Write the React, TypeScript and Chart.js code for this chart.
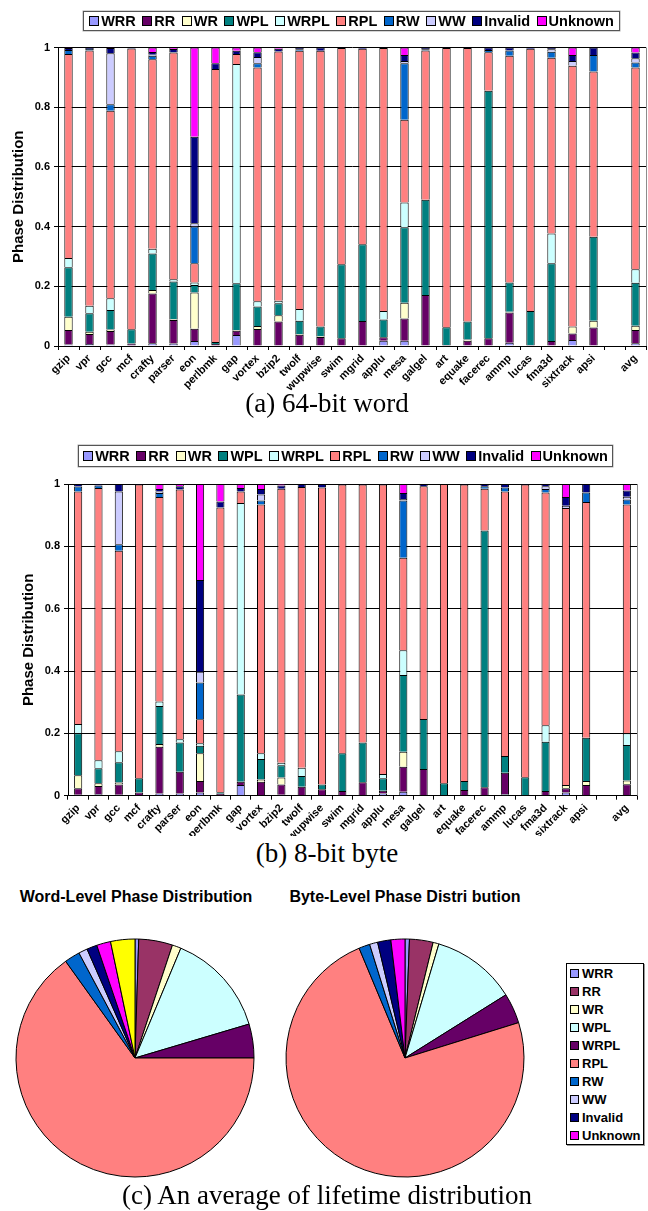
import React, { useEffect, useRef } from 'react';
import { Chart, registerables } from 'chart.js';

Chart.register(...registerables);

const SANS = "'Liberation Sans', Arial, sans-serif";
const SERIF = "'Liberation Serif', 'Times New Roman', serif";

// ---------- categories & series ----------
const categories = ['gzip', 'vpr', 'gcc', 'mcf', 'crafty', 'parser', 'eon', 'perlbmk', 'gap', 'vortex', 'bzip2', 'twolf', 'wupwise', 'swim', 'mgrid', 'applu', 'mesa', 'galgel', 'art', 'equake', 'facerec', 'ammp', 'lucas', 'fma3d', 'sixtrack', 'apsi', '', 'avg'];
const phaseNames = ['WRR', 'RR', 'WR', 'WPL', 'WRPL', 'RPL', 'RW', 'WW', 'Invalid', 'Unknown'];
const barColors = ['#9999FF', '#660066', '#FFFFCC', '#008080', '#CCFFFF', '#FF8080', '#0066CC', '#CCCCFF', '#000080', '#FF00FF'];

// (a) 64-bit word
const wordWRR = [0.005, 0.007, 0.005, 0, 0.009, 0.008, 0.017, 0, 0.037, 0.002, 0.002, 0.003, 0, 0, 0, 0.018, 0.018, 0, 0, 0, 0, 0.011, 0, 0, 0.020, 0, null, 0.009];
const wordRR = [0.049, 0.033, 0.045, 0.008, 0.167, 0.079, 0.041, 0.007, 0.014, 0.055, 0.080, 0.035, 0.030, 0.026, 0.084, 0.011, 0.074, 0.171, 0.003, 0.018, 0.026, 0.101, 0.003, 0.017, 0.022, 0.062, null, 0.045];
const wordWR = [0.044, 0.008, 0.005, 0, 0.012, 0.003, 0.121, 0, 0.003, 0.010, 0.021, 0.002, 0.003, 0, 0, 0, 0.053, 0, 0, 0.004, 0, 0.003, 0, 0, 0.023, 0.023, null, 0.014];
const wordWPL = [0.166, 0.062, 0.066, 0.048, 0.122, 0.126, 0.025, 0.006, 0.156, 0.065, 0.040, 0.045, 0.032, 0.248, 0.257, 0.060, 0.253, 0.319, 0.060, 0.060, 0.829, 0.098, 0.114, 0.260, 0, 0.281, null, 0.144];
const wordWRPL = [0.031, 0.025, 0.039, 0, 0.016, 0.008, 0.009, 0, 0.735, 0.018, 0.009, 0.039, 0, 0, 0, 0.028, 0.083, 0, 0, 0, 0, 0, 0, 0.100, 0, 0, null, 0.045];
const wordRPL = [0.683, 0.855, 0.628, 0.941, 0.635, 0.759, 0.064, 0.915, 0.033, 0.783, 0.835, 0.865, 0.924, 0.724, 0.655, 0.881, 0.277, 0.500, 0.935, 0.916, 0.129, 0.759, 0.879, 0.589, 0.874, 0.554, null, 0.676];
const wordRW = [0.014, 0.005, 0.022, 0, 0.011, 0.002, 0.123, 0, 0, 0.014, 0, 0.005, 0, 0, 0, 0, 0.189, 0.004, 0, 0, 0.008, 0.018, 0, 0.020, 0, 0.055, null, 0.017];
const wordWW = [0, 0, 0.171, 0, 0.004, 0, 0.011, 0, 0, 0.021, 0, 0, 0, 0, 0, 0, 0.008, 0, 0, 0, 0, 0, 0, 0.008, 0.016, 0, null, 0.014];
const wordInvalid = [0.006, 0.004, 0.017, 0.003, 0.009, 0.010, 0.290, 0.019, 0.011, 0.016, 0.009, 0.006, 0.011, 0.002, 0.004, 0.002, 0.020, 0.006, 0.002, 0.002, 0.008, 0.010, 0.004, 0.006, 0.020, 0.025, null, 0.019];
const wordUnknown = [0.002, 0.001, 0.002, 0, 0.015, 0.005, 0.299, 0.053, 0.011, 0.016, 0.004, 0, 0, 0, 0, 0, 0.025, 0, 0, 0, 0, 0, 0, 0, 0.025, 0, null, 0.017];

// (b) 8-bit byte
const byteWRR = [0.003, 0.005, 0.003, 0, 0.007, 0.007, 0.010, 0, 0.034, 0, 0.003, 0, 0, 0, 0, 0.007, 0.013, 0, 0, 0, 0, 0.005, 0, 0, 0.010, 0, null, 0.002];
const byteRR = [0.021, 0.026, 0.033, 0.010, 0.150, 0.070, 0.037, 0.006, 0.011, 0.045, 0.033, 0.029, 0.021, 0.015, 0.043, 0.009, 0.080, 0.086, 0.002, 0.018, 0.027, 0.069, 0, 0.015, 0.014, 0.034, null, 0.035];
const byteWR = [0.042, 0.009, 0.006, 0, 0.009, 0, 0.089, 0, 0, 0.007, 0.022, 0, 0, 0, 0, 0, 0.048, 0, 0, 0, 0, 0, 0, 0, 0.010, 0.013, null, 0.012];
const byteWPL = [0.134, 0.048, 0.065, 0.046, 0.122, 0.094, 0.024, 0.005, 0.280, 0.066, 0.040, 0.034, 0.015, 0.121, 0.128, 0.040, 0.246, 0.160, 0.038, 0.029, 0.824, 0.053, 0.059, 0.158, 0, 0.139, null, 0.114];
const byteWRPL = [0.030, 0.026, 0.036, 0, 0.014, 0.010, 0.008, 0, 0.614, 0.018, 0.008, 0.027, 0, 0, 0, 0.014, 0.080, 0, 0, 0, 0, 0, 0, 0.053, 0, 0, null, 0.037];
const byteRPL = [0.746, 0.873, 0.643, 0.942, 0.656, 0.801, 0.077, 0.914, 0.037, 0.798, 0.879, 0.900, 0.953, 0.862, 0.827, 0.928, 0.296, 0.747, 0.960, 0.951, 0.134, 0.849, 0.939, 0.747, 0.889, 0.756, null, 0.734];
const byteRW = [0.016, 0.008, 0.021, 0, 0.013, 0, 0.118, 0, 0, 0.013, 0, 0, 0, 0, 0, 0, 0.184, 0, 0, 0, 0.008, 0.013, 0, 0.011, 0, 0.031, null, 0.016];
const byteWW = [0, 0, 0.169, 0, 0.005, 0, 0.035, 0, 0, 0.019, 0, 0, 0, 0, 0, 0, 0.005, 0, 0, 0, 0, 0, 0, 0.009, 0.007, 0, null, 0.009];
const byteInvalid = [0.008, 0.005, 0.024, 0.002, 0.008, 0.011, 0.294, 0.019, 0.011, 0.018, 0.010, 0.010, 0.011, 0.002, 0.002, 0.002, 0.019, 0.007, 0, 0.002, 0.007, 0.011, 0.002, 0.007, 0.028, 0.027, null, 0.020];
const byteUnknown = [0, 0, 0, 0, 0.016, 0.007, 0.308, 0.056, 0.013, 0.016, 0.005, 0, 0, 0, 0, 0, 0.029, 0, 0, 0, 0, 0, 0, 0, 0.042, 0, null, 0.021];

// (c) pies
const pieLabels = ['WRR', 'RR', 'WR', 'WPL', 'WRPL', 'RPL', 'RW', 'WW', 'Invalid', 'Unknown', ''];
const pieColors = ['#9999FF', '#993366', '#FFFFCC', '#CCFFFF', '#660066', '#FF8080', '#0066CC', '#CCCCFF', '#000080', '#FF00FF', '#FFFF00'];
const wordPie = [0.5, 4.6, 1.2, 14.1, 4.6, 65.1, 2.1, 1.2, 1.4, 1.9, 3.3];
const bytePie = [0.6, 3.2, 0.8, 11.5, 4.1, 73.5, 1.5, 1.1, 1.8, 1.9];

const wordSeries = [wordWRR, wordRR, wordWR, wordWPL, wordWRPL, wordRPL, wordRW, wordWW, wordInvalid, wordUnknown];
const byteSeries = [byteWRR, byteRR, byteWR, byteWPL, byteWRPL, byteRPL, byteRW, byteWW, byteInvalid, byteUnknown];

const rightFrame = {
  id: 'rightFrame',
  afterDraw(chart: any) {
    const { ctx, chartArea: a } = chart;
    ctx.save();
    ctx.strokeStyle = '#8c8c8c';
    ctx.lineWidth = 1;
    ctx.beginPath();
    const x = Math.round(a.right) + 0.5;
    ctx.moveTo(x, a.top);
    ctx.lineTo(x, a.bottom);
    ctx.stroke();
    ctx.restore();
  },
};

function StackedBars(props: any) {
  const { series, top, height, axisWidth, padTop, padRight, titlePad, plotBottom } = props;
  const ref = useRef<HTMLCanvasElement | null>(null);
  useEffect(() => {
    const chart = new Chart(ref.current as HTMLCanvasElement, {
      type: 'bar',
      data: {
        labels: categories,
        datasets: phaseNames.map((name, i) => ({
          label: name,
          data: series[i].map((v: number | null) => (v === null || v === 0 ? null : v)),
          backgroundColor: barColors[i],
          borderColor: '#000',
          borderWidth: { top: 1, left: 1, right: 1, bottom: 0 },
          borderSkipped: false,
          barPercentage: 0.4,
          categoryPercentage: 1,
        })),
      },
      options: {
        responsive: false,
        animation: false,
        layout: { padding: { top: padTop, right: padRight, left: 0, bottom: 0 } },
        plugins: { legend: { display: false }, tooltip: { enabled: false } },
        scales: {
          x: {
            stacked: true,
            grid: { display: true, drawOnChartArea: false, drawTicks: true, tickLength: 4, color: '#000', offset: true },
            border: { color: '#000', width: 1 },
            ticks: {
              autoSkip: false,
              maxRotation: 45,
              minRotation: 45,
              padding: 2,
              color: '#000',
              font: { family: SANS, size: 11, weight: 'bold' },
            },
            afterFit: (s: any) => {
              s.height = height - plotBottom;
            },
          },
          y: {
            stacked: true,
            min: 0,
            max: 1,
            ticks: {
              stepSize: 0.2,
              padding: 4,
              color: '#000',
              font: { family: SANS, size: 11, weight: 'bold' },
              callback: (v: any) => String(Math.round(Number(v) * 10) / 10),
            },
            grid: { color: '#000', lineWidth: 1, tickLength: 4 },
            border: { color: '#000', width: 1 },
            title: {
              display: true,
              text: 'Phase Distribution',
              color: '#000',
              font: { family: SANS, size: 15, weight: 'bold' },
              padding: { top: titlePad, bottom: 0 },
            },
            afterFit: (s: any) => {
              s.width = axisWidth;
            },
          },
        },
      } as any,
      plugins: [rightFrame],
    });
    return () => chart.destroy();
  }, []);
  return <canvas ref={ref} width={648} height={height} style={{ position: 'absolute', left: 0, top }} />;
}

function PieChart(props: any) {
  const { values, left, top } = props;
  const ref = useRef<HTMLCanvasElement | null>(null);
  useEffect(() => {
    const chart = new Chart(ref.current as HTMLCanvasElement, {
      type: 'pie',
      data: {
        labels: pieLabels.slice(0, values.length),
        datasets: [
          {
            data: values,
            backgroundColor: pieColors.slice(0, values.length),
            borderColor: '#000',
            borderWidth: 1,
            radius: 119,
          } as any,
        ],
      },
      options: {
        responsive: false,
        animation: false,
        plugins: { legend: { display: false }, tooltip: { enabled: false } },
      },
    });
    return () => chart.destroy();
  }, []);
  return <canvas ref={ref} width={250} height={250} style={{ position: 'absolute', left, top }} />;
}

function BarLegend(props: any) {
  const { left, top, width, height } = props;
  return (
    <div
      style={{
        position: 'absolute',
        left,
        top,
        width,
        height,
        boxSizing: 'border-box',
        border: '1px solid #555',
        boxShadow: '0 0 0 0.5px #aaa',
        display: 'flex',
        alignItems: 'center',
        justifyContent: 'center',
        fontFamily: SANS,
        fontWeight: 'bold',
        fontSize: 14.5,
        whiteSpace: 'nowrap',
      }}
    >
      {phaseNames.map((n, i) => (
        <span key={n} style={{ display: 'flex', alignItems: 'center', marginRight: i === phaseNames.length - 1 ? 0 : 6.5 }}>
          <span
            style={{
              display: 'inline-block',
              width: 10,
              height: 10,
              boxSizing: 'border-box',
              border: '1px solid #000',
              background: barColors[i],
              marginRight: 2,
            }}
          />
          <span>{n}</span>
        </span>
      ))}
    </div>
  );
}

function PieLegend() {
  const names = pieLabels.filter((n) => n !== '');
  return (
    <div
      style={{
        position: 'absolute',
        left: 566,
        top: 963,
        width: 78,
        height: 182,
        boxSizing: 'border-box',
        border: '1px solid #000',
        boxShadow: '1px 1px 0 #999',
        fontFamily: SANS,
        fontWeight: 'bold',
        fontSize: 13,
      }}
    >
      {names.map((n, i) => (
        <div key={n} style={{ height: 18, display: 'flex', alignItems: 'center', paddingLeft: 3 }}>
          <span
            style={{
              display: 'inline-block',
              width: 9,
              height: 9,
              boxSizing: 'border-box',
              border: '1px solid #000',
              background: pieColors[i],
              marginRight: 3,
            }}
          />
          <span>{n}</span>
        </div>
      ))}
    </div>
  );
}

function Caption(props: any) {
  return (
    <div
      style={{
        position: 'absolute',
        left: 3,
        top: props.top,
        width: 648,
        textAlign: 'center',
        fontFamily: SERIF,
        fontSize: 27,
        lineHeight: '30px',
        color: '#000',
        whiteSpace: 'nowrap',
      }}
    >
      {props.text}
    </div>
  );
}

function PieTitle(props: any) {
  return (
    <div
      style={{
        position: 'absolute',
        left: props.center - 150,
        top: 888,
        width: 300,
        textAlign: 'center',
        fontFamily: SANS,
        fontWeight: 'bold',
        fontSize: 16,
        lineHeight: '18px',
        whiteSpace: 'nowrap',
      }}
    >
      {props.text}
    </div>
  );
}

export default function App() {
  return (
    <div style={{ position: 'absolute', left: 0, top: 0, width: 648, height: 1211, background: '#fff', overflow: 'hidden' }}>
      <StackedBars series={wordSeries} top={0} height={392} plotBottom={346} axisWidth={58} padTop={47.5} padRight={2} titlePad={10} />
      <BarLegend left={83} top={10.5} width={537} height={20.5} />
      <Caption top={388} text="(a) 64-bit word" />

      <StackedBars series={byteSeries} top={436} height={400} plotBottom={359.7} axisWidth={68} padTop={48} padRight={11} titlePad={20} />
      <BarLegend left={78} top={445} width={535} height={22} />
      <Caption top={838} text="(b) 8-bit byte" />

      <PieTitle center={136} text="Word-Level Phase Distribution" />
      <PieTitle center={405} text="Byte-Level Phase Distri bution" />
      <PieChart values={wordPie} left={10} top={933} />
      <PieChart values={bytePie} left={280} top={933} />
      <PieLegend />
      <Caption top={1180} text="(c) An average of lifetime distribution" />
    </div>
  );
}
